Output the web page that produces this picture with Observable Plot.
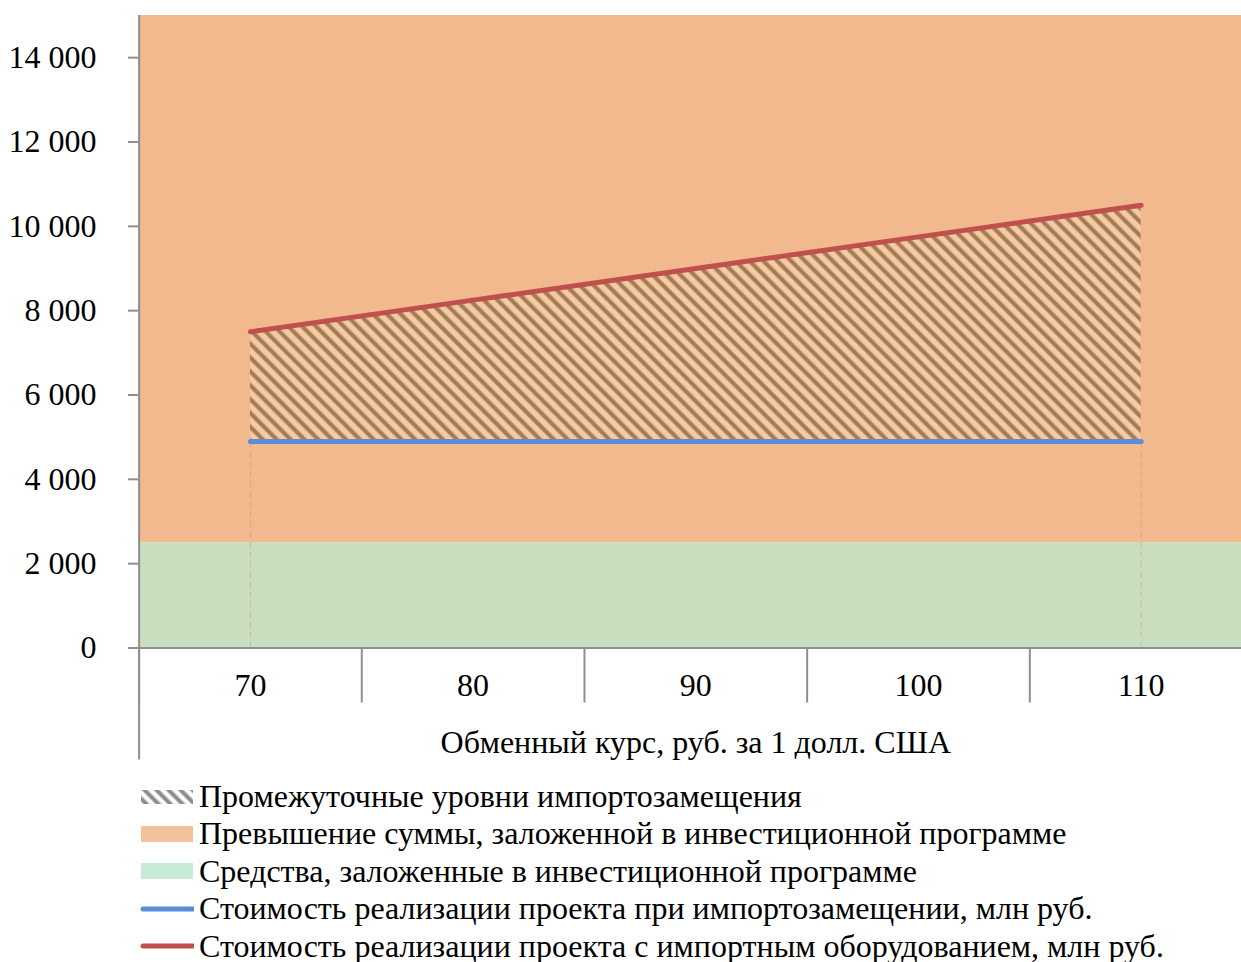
<!DOCTYPE html>
<html>
<head>
<meta charset="utf-8">
<script src="https://cdn.jsdelivr.net/npm/d3@7"></script>
<script src="https://cdn.jsdelivr.net/npm/@observablehq/plot@0.6"></script>
<style>
  html, body { margin: 0; padding: 0; background: #fff; overflow: hidden; }
  #chart { width: 1241px; }
  .legend { font-family: "Liberation Serif", "Times New Roman", serif; font-size: 32px; color: #000; }
  .legend .row { position: relative; height: 37.4px; display: flex; align-items: center; }
  .legend .sw { position: absolute; left: 140px; width: 54px; display: flex; align-items: center; justify-content: center; }
  .legend .lbl { position: absolute; left: 199px; white-space: nowrap; line-height: 37.4px; }
</style>
</head>
<body>
<div id="chart"></div>
<script>
// ---- data ----
const rates = [70, 80, 90, 100, 110];
const costImportSubstitution = [4900, 4900, 4900, 4900, 4900];
const costImportedEquipment = [7500, 8250, 9000, 9750, 10500];
const budgetLevel = 2500;
const yTop = 15000;
const xDomain = [65, 115];
const yTicks = [0, 2000, 4000, 6000, 8000, 10000, 12000, 14000];
const bandEdges = [65, 75, 85, 95, 105, 115];
const xAxisLabel = "Обменный курс, руб. за 1 долл. США";
const legendLabels = [
  "Промежуточные уровни импортозамещения",
  "Превышение суммы, заложенной в инвестиционной программе",
  "Средства, заложенные в инвестиционной программе",
  "Стоимость реализации проекта при импортозамещении, млн руб.",
  "Стоимость реализации проекта с импортным оборудованием, млн руб."
];

// ---- derived tables ----
const rows = rates.map((r, i) => ({rate: r, sub: costImportSubstitution[i], imp: costImportedEquipment[i]}));
const ends = [rows[0], rows[rows.length - 1]];
const bands = [
  {x1: xDomain[0], x2: xDomain[1], y1: budgetLevel, y2: yTop, fill: "#F2B98E"},
  {x1: xDomain[0], x2: xDomain[1], y1: 0, y2: budgetLevel, fill: "#C9DDBF"}
];
const fmt = d => d3.format(",")(d).replace(/,/g, " ");
const gray = "#8f8f8f";
const FONT = "\"Liberation Serif\", \"Times New Roman\", serif";

const chart = Plot.plot({
  width: 1241,
  height: 778,
  marginTop: 15,
  marginBottom: 130.5,
  marginLeft: 138,
  marginRight: 0,
  style: {fontFamily: FONT, fontSize: "32px", color: "#000", background: "transparent", overflow: "hidden"},
  x: {domain: xDomain, range: [138.6, 1252]},
  y: {domain: [0, yTop]},
  marks: [
    Plot.rect(bands, {x1: "x1", x2: "x2", y1: "y1", y2: "y2", fill: "fill"}),
    Plot.areaY(rows, {x: "rate", y1: "sub", y2: "imp", fill: "url(#hatch)"}),
    Plot.ruleX(ends, {x: "rate", y1: 0, y2: "sub", stroke: "#9a8a7a", strokeOpacity: 0.35, strokeWidth: 1, strokeDasharray: "6,4"}),
    Plot.lineY(rows, {x: "rate", y: "sub", stroke: "#5A8DD3", strokeWidth: 5, strokeLinecap: "round"}),
    Plot.lineY(rows, {x: "rate", y: "imp", stroke: "#C0504D", strokeWidth: 5, strokeLinecap: "round"}),
    Plot.ruleX([xDomain[0]], {stroke: gray, strokeWidth: 2}),
    Plot.ruleY([0], {stroke: gray, strokeWidth: 2}),
    Plot.axisY({ticks: yTicks, tickSize: 10, tickPadding: 32, tickFormat: fmt, stroke: gray, strokeWidth: 2, fontSize: 32, label: null}),
    Plot.axisX({ticks: bandEdges, tickSize: 55, tickFormat: () => "", stroke: gray, strokeWidth: 2, label: null}),
    Plot.axisX({ticks: [xDomain[0]], tickSize: 112, tickFormat: () => "", stroke: gray, strokeWidth: 2, label: null}),
    Plot.axisX({ticks: rates, tickSize: 0, tickPadding: 25, tickFormat: d => String(d), fontSize: 32, label: null}),
    Plot.text([xAxisLabel], {x: d3.mean(xDomain), y: 0, text: d => d, dy: 95, fontSize: 32, fill: "#000"})
  ]
});

// hatch pattern (soft diagonal stripes)
const svg = d3.select(chart);
const defs = svg.insert("defs", ":first-child");
const P = 9.8;
const pat = defs.append("pattern")
  .attr("id", "hatch")
  .attr("patternUnits", "userSpaceOnUse")
  .attr("width", P).attr("height", P)
  .attr("patternTransform", "rotate(-45)");
pat.append("rect").attr("width", P).attr("height", P).attr("fill", "#F5CAA4");
pat.append("rect").attr("x", 0).attr("width", 5).attr("height", P).attr("fill", "#C9A27C");
pat.append("rect").attr("x", 0.9).attr("width", 3.2).attr("height", P).attr("fill", "#A47A53");

document.getElementById("chart").appendChild(chart);

// ---- legend ----
const legend = d3.select("body").append("div").attr("class", "legend");
const swatches = [
  () => `<svg width="54" height="16"><defs><pattern id="lhatch" patternUnits="userSpaceOnUse" width="8.5" height="8.5" patternTransform="rotate(-45)"><rect width="8.5" height="8.5" fill="#fff"/><rect width="5" height="8.5" fill="#c4c4c4"/><rect x="1" width="3" height="8.5" fill="#8a8a8a"/></pattern></defs><rect x="1" y="1" width="52" height="14" fill="url(#lhatch)"/></svg>`,
  () => `<svg width="54" height="16"><rect x="1" y="0" width="52" height="16" fill="#F2C29C"/></svg>`,
  () => `<svg width="54" height="16"><rect x="1" y="0" width="52" height="16" fill="#C8EBD7"/></svg>`,
  () => `<svg width="56" height="8"><line x1="3" x2="53" y1="4" y2="4" stroke="#5A8DD3" stroke-width="5" stroke-linecap="round"/></svg>`,
  () => `<svg width="56" height="8"><line x1="3" x2="53" y1="4" y2="4" stroke="#C0504D" stroke-width="5" stroke-linecap="round"/></svg>`
];
legendLabels.forEach((lab, i) => {
  const row = legend.append("div").attr("class", "row");
  row.append("div").attr("class", "sw").html(swatches[i]());
  row.append("div").attr("class", "lbl").text(lab);
});
</script>
</body>
</html>
